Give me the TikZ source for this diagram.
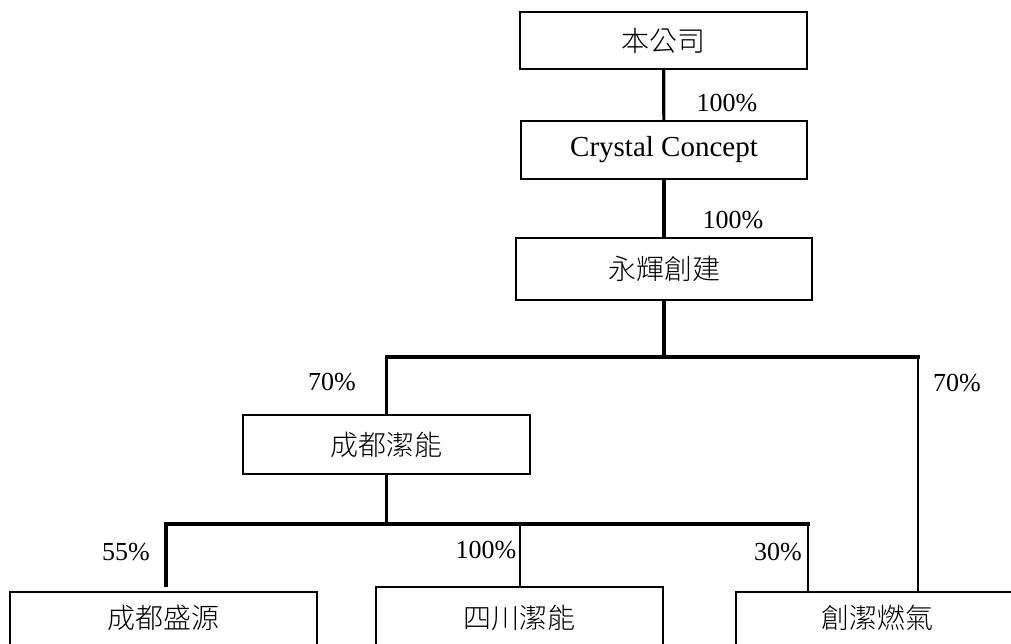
\documentclass[tikz,border=0pt]{standalone}
\usepackage{fontspec}
\setmainfont{Liberation Serif}
\newfontfamily\cjk{Noto Sans CJK TC}[UprightFont={* Light}]
\begin{document}
\begin{tikzpicture}[x=1pt,y=-1pt,
  box/.style={draw,line width=2.2pt,inner sep=0pt,font=\cjk\fontsize{28}{30}\selectfont},
  lat/.style={font=\fontsize{29}{31}\selectfont},
  pct/.style={inner sep=0pt,font=\fontsize{26}{28}\selectfont},
  trunk/.style={line width=3.2pt},
  branch/.style={line width=2.1pt}]
\clip (0,0) rectangle (1011,644);
\fill[white] (0,0) rectangle (1011,644);
% boxes
\node[box,minimum width=287pt,minimum height=57pt] (top) at (663.5,40.5) {本公司};
\node[box,lat,minimum width=286pt,minimum height=58pt] (cc) at (664,150) {Crystal Concept};
\node[box,minimum width=296pt,minimum height=62pt] (yh) at (664,269) {永輝創建};
\node[box,minimum width=287pt,minimum height=59pt] (cdjn) at (386.5,444.5) {成都潔能};
\node[box,text depth=13pt,minimum width=307pt,minimum height=62pt] (cdsy) at (163.5,623) {成都盛源};
\node[box,minimum width=287pt,minimum height=62pt] (scjn) at (519.5,618) {四川潔能};
\node[box,text depth=13pt,minimum width=282pt,minimum height=62pt] (cjrq) at (877,623) {創潔燃氣};
% junctions
\coordinate (j1) at (664,357);
\coordinate (jl) at (386.5,357);
\coordinate (jr) at (918,357);
\coordinate (j2) at (386.5,524);
\coordinate (kl) at (166,524);
\coordinate (km) at (520,524);
\coordinate (kr) at (808,524);
\coordinate (kle) at (166,587);
% connectors
\draw[trunk] (top) -- (cc);
\draw[trunk] (cc) -- (yh);
\draw[trunk] (yh) -- (j1);
\draw[trunk,line cap=rect] (jl) -- (jr);
\draw[branch] (jl) -- (cdjn.north -| jl);
\draw[branch] (jr) -- (cjrq.north -| jr);
\draw[trunk] (cdjn) -- (j2);
\draw[trunk,line cap=rect] (kl) -- (kr);
\draw[trunk] (kl) -- (kle);
\draw[branch] (km) -- (scjn.north -| km);
\draw[branch] (kr) -- (cjrq.north -| kr);
% labels
\node[pct] (p1) at (727,103) {100\%};
\node[pct] (p2) at (733,220) {100\%};
\node[pct] (p3) at (332,382) {70\%};
\node[pct] (p4) at (957,383) {70\%};
\node[pct] (p5) at (126,552) {55\%};
\node[pct] (p6) at (486,550) {100\%};
\node[pct] (p7) at (778,552) {30\%};
\end{tikzpicture}
\end{document}
